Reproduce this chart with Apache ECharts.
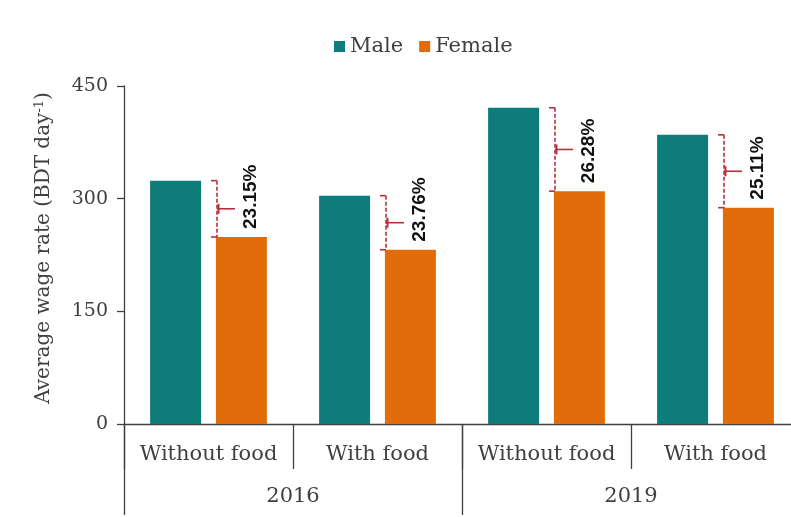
<!DOCTYPE html>
<html>
<head>
<meta charset="utf-8">
<script src="https://cdn.jsdelivr.net/npm/echarts@6/dist/echarts.min.js"></script>
<style>
  html, body { margin: 0; padding: 0; background: #fff; overflow: hidden; }
  /* plot runs slightly past the right edge of the page */
  #chart { width: 800px; height: 517px; }
</style>
</head>
<body>
<div id="chart"></div>
<script>
// Average daily wage by gender, grouped by food provision and survey year
const categories = ['Without food', 'With food', 'Without food', 'With food'];
const years = ['2016', '2019'];
const maleWage = [324, 304, 421, 385];
const femaleWage = [249, 232, 310, 288];
const wageGap = ['23.15%', '23.76%', '26.28%', '25.11%'];
const yTicks = { min: 0, max: 450, interval: 150 };

const SERIF = '"DejaVu Serif", "Liberation Serif", serif';
const TEXT = '#404040';
const BRACE = '#B5303C';

const gapData = categories.map((c, i) => [i, maleWage[i], femaleWage[i], wageGap[i]]);

const chart = echarts.init(document.getElementById('chart'));

function renderGap(params, api) {
  const idx = api.value(0);
  const top = api.coord([idx, api.value(1)]);
  const bottom = api.coord([idx, api.value(2)]);
  const x = top[0] + 8.5;
  const y1 = top[1];
  const y2 = bottom[1];
  const ym = (y1 + y2) / 2;
  const solid = { stroke: BRACE, lineWidth: 1.6, fill: null };
  return {
    type: 'group',
    children: [
      { type: 'line', shape: { x1: x, y1: y1, x2: x, y2: y2 },
        style: { stroke: BRACE, lineWidth: 1.6, lineDash: [4, 2] } },
      { type: 'line', shape: { x1: x - 6, y1: y1, x2: x, y2: y1 }, style: solid },
      { type: 'line', shape: { x1: x - 6, y1: y2, x2: x, y2: y2 }, style: solid },
      { type: 'line', shape: { x1: x + 1.5, y1: ym - 5, x2: x + 1.5, y2: ym + 5 }, style: { stroke: BRACE, lineWidth: 2 } },
      { type: 'line', shape: { x1: x, y1: ym, x2: x + 18, y2: ym }, style: solid },
      { type: 'text', x: top[0] + 42, y: y2 - 8, rotation: Math.PI / 2,
        style: { text: wageGap[idx], x: 0, y: 0, textAlign: 'left', textVerticalAlign: 'middle',
                 fill: '#111', font: 'bold 19px "Liberation Sans", Arial, sans-serif' } }
    ]
  };
}

chart.setOption({
  animation: false,
  backgroundColor: '#fff',
  color: ['#0E7C7B', '#E36C0A'],
  legend: {
    left: 329, top: 31,
    icon: 'rect', itemWidth: 11, itemHeight: 11, itemGap: 16,
    data: ['Male', 'Female'],
    textStyle: { fontFamily: SERIF, fontSize: 21, color: TEXT }
  },
  grid: { left: 124, right: 0, top: 86, bottom: 93 },
  xAxis: [
    {
      type: 'category', data: categories,
      axisLine: { lineStyle: { color: TEXT, width: 1.3 } },
      axisTick: { show: true, interval: 0, length: 45, lineStyle: { color: TEXT, width: 1.3 } },
      axisLabel: { interval: 0, margin: 20, fontFamily: SERIF, fontSize: 21, color: TEXT }
    },
    {
      type: 'category', data: years, position: 'bottom',
      axisLine: { show: false },
      axisTick: { show: true, interval: 0, length: 91, lineStyle: { color: TEXT, width: 1.3 } },
      axisLabel: { interval: 0, margin: 62, fontFamily: SERIF, fontSize: 21, color: TEXT }
    }
  ],
  yAxis: {
    type: 'value', min: yTicks.min, max: yTicks.max, interval: yTicks.interval,
    name: 'Average wage rate (BDT day{sup|-1})',
    nameLocation: 'middle', nameGap: 69,
    nameTextStyle: {
      fontFamily: SERIF, fontSize: 20, color: TEXT, padding: [0, 0, 0, 14],
      rich: { sup: { fontFamily: SERIF, fontSize: 13, color: TEXT, padding: [0, 0, 9, 0] } }
    },
    axisLine: { show: true, lineStyle: { color: TEXT, width: 1.3 } },
    axisTick: { show: true, length: 7, lineStyle: { color: TEXT, width: 1.3 } },
    splitLine: { show: false },
    axisLabel: { margin: 16, fontFamily: SERIF, fontSize: 19, color: TEXT }
  },
  series: [
    { name: 'Male', type: 'bar', data: maleWage, barWidth: 51, barGap: '29%' },
    { name: 'Female', type: 'bar', data: femaleWage, barWidth: 51 },
    { name: 'gap', type: 'custom', data: gapData, renderItem: renderGap, z: 5,
      encode: { x: 0, y: [1, 2] } }
  ]
});
</script>
</body>
</html>
